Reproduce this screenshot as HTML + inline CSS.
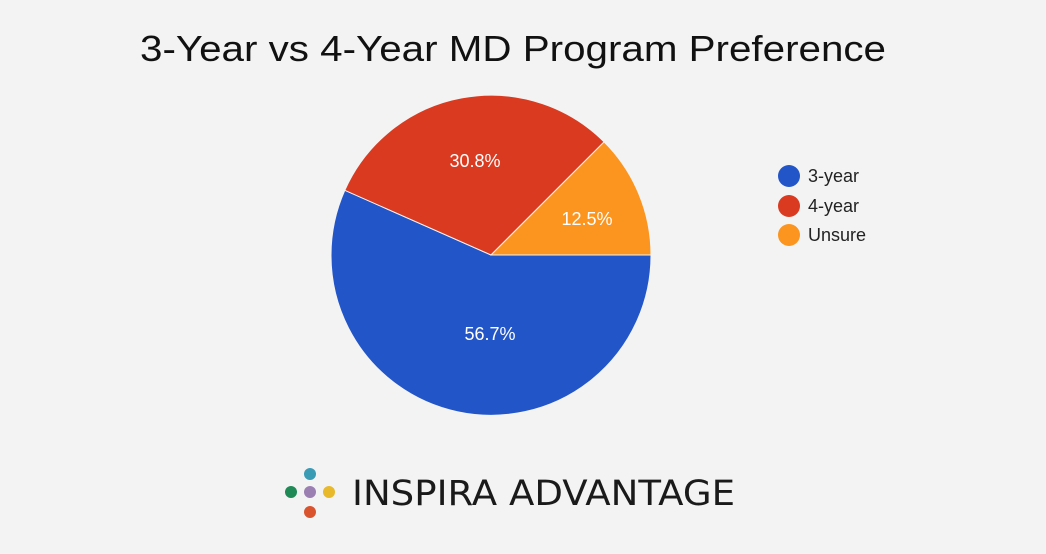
<!DOCTYPE html>
<html><head><meta charset="utf-8"><style>
html,body{margin:0;padding:0;background:#f3f3f3;}
svg{display:block;}
</style></head><body>
<svg width="1046" height="554" viewBox="0 0 1046 554" xmlns="http://www.w3.org/2000/svg">
<rect width="1046" height="554" fill="#f3f3f3"/>
<text x="513" y="61" text-anchor="middle" font-family="Liberation Sans, sans-serif" font-size="36" fill="#111" textLength="746" lengthAdjust="spacingAndGlyphs">3-Year vs 4-Year MD Program Preference</text>
<g stroke="#f3f3f3" stroke-width="1">
<path d="M491,255 L651,255 A160,160 0 1 1 344.8,190.3 Z" fill="#2255c8"/>
<path d="M491,255 L344.8,190.3 A160,160 0 0 1 604.1,141.9 Z" fill="#d93a20"/>
<path d="M491,255 L604.1,141.9 A160,160 0 0 1 651,255 Z" fill="#fb951f"/>
</g>
<g font-family="Liberation Sans, sans-serif" font-size="18" fill="#fff" text-anchor="middle">
<text x="475" y="167">30.8%</text>
<text x="587" y="225">12.5%</text>
<text x="490" y="340">56.7%</text>
</g>
<circle cx="789" cy="176" r="11" fill="#2255c8"/>
<circle cx="789" cy="206" r="11" fill="#d93a20"/>
<circle cx="789" cy="235" r="11" fill="#fb951f"/>
<g font-family="Liberation Sans, sans-serif" font-size="18" fill="#222">
<text x="808" y="182">3-year</text>
<text x="808" y="212">4-year</text>
<text x="808" y="241">Unsure</text>
</g>
<circle cx="310" cy="474" r="6" fill="#3a9bb5"/>
<circle cx="291" cy="492" r="6" fill="#1f8a55"/>
<circle cx="310" cy="492" r="6" fill="#9b7fb3"/>
<circle cx="329" cy="492" r="6" fill="#e8b92a"/>
<circle cx="310" cy="512" r="6" fill="#d9532d"/>
<text x="352" y="505" font-family="DejaVu Sans, sans-serif" font-size="35" fill="#1a1a1a" textLength="383" lengthAdjust="spacingAndGlyphs">INSPIRA ADVANTAGE</text>
</svg>
</body></html>
